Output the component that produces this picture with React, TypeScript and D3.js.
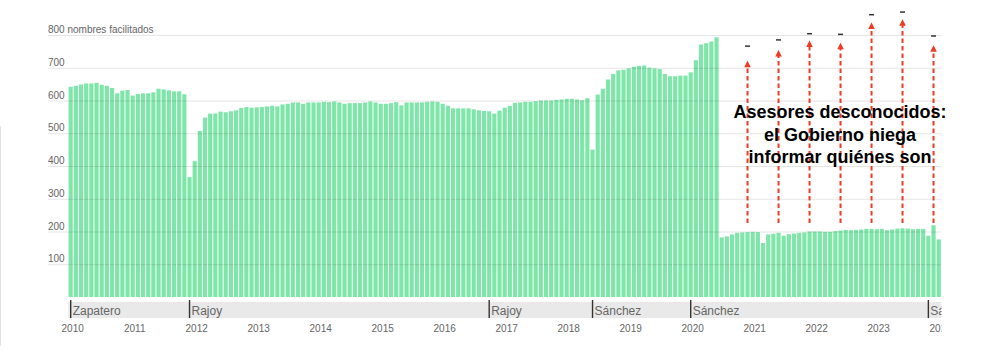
import React from 'react';
import * as d3 from 'd3';

// monthly counts of named advisers, Jan 2010 -> Jan 2024
const y2010 = [642, 645, 649, 652, 652, 654, 648, 645, 638, 622, 630, 632];
const y2011 = [615, 620, 622, 622, 625, 636, 634, 631, 628, 628, 619, 366];
const y2012 = [415, 507, 548, 560, 560, 566, 564, 567, 570, 577, 580, 578];
const y2013 = [579, 580, 582, 584, 582, 588, 590, 594, 594, 590, 594, 594];
const y2014 = [594, 596, 595, 597, 594, 590, 592, 592, 592, 594, 597, 594];
const y2015 = [590, 590, 592, 595, 585, 594, 594, 594, 594, 596, 597, 596];
const y2016 = [590, 584, 576, 576, 576, 576, 573, 570, 568, 567, 560, 569];
const y2017 = [578, 583, 593, 594, 596, 596, 598, 600, 600, 600, 602, 603];
const y2018 = [605, 605, 603, 601, 607, 450, 618, 636, 664, 681, 692, 694];
const y2019 = [698, 703, 706, 707, 700, 698, 696, 681, 674, 674, 676, 676];
const y2020 = [686, 723, 771, 775, 780, 793, 182, 185, 191, 196, 197, 198];
const y2021 = [199, 198, 165, 191, 193, 196, 187, 192, 194, 196, 197, 200];
const y2022 = [200, 200, 199, 199, 201, 203, 205, 204, 205, 206, 208, 208];
const y2023 = [207, 208, 204, 206, 209, 210, 209, 207, 208, 208, 187, 219];
const y2024 = [176];

const values = [
  ...y2010, ...y2011, ...y2012, ...y2013, ...y2014, ...y2015, ...y2016,
  ...y2017, ...y2018, ...y2019, ...y2020, ...y2021, ...y2022, ...y2023, ...y2024,
];

const years = d3.range(2010, 2025);
const yTicks = [100, 200, 300, 400, 500, 600, 700, 800];

// government terms: label + month index (0 = Jan 2010)
const termNames = ['Zapatero', 'Rajoy', 'Rajoy', 'Sánchez', 'Sánchez', 'Sánchez'];
const termStarts = [0, 23, 81, 101, 120, 166];

// "unknown advisers" arrows every six months
const arrowMonths = [131, 137, 143, 149, 155, 161, 167];
const arrowTips = [721, 754, 783, 776, 838, 848, 769];
const arrowMarks = [766, 785, 804, 802, 862, 870, 797];

const noteLines = ['Asesores desconocidos:', 'el Gobierno niega', 'informar quiénes son'];

const W = 1000;
const H = 361;
const FONT = '"Liberation Sans", Arial, Helvetica, sans-serif';

export default function App() {
  const x = d3.scaleLinear().domain([0, 168]).range([70.7, 938.7]);
  const y = d3.scaleLinear().domain([0, 800]).range([297, 35]);
  const step = x(1) - x(0);
  const barW = step - 1;
  const right = 941.5;

  return (
    <div style={{ position: 'absolute', left: 0, top: 0 }}>
      <svg width={W} height={H} style={{ display: 'block', fontFamily: FONT }}>
        <defs>
          <clipPath id="clip">
            <rect x={0} y={0} width={right} height={H} />
          </clipPath>
        </defs>
        <rect width={W} height={H} fill="#fff" />
        <line x1={0.5} x2={0.5} y1={126} y2={346} stroke="#e2e2e2" />

        <g>
          {values.map((v, i) => (
            <rect
              key={i}
              x={x(i) - barW / 2}
              y={y(v)}
              width={barW}
              height={y(0) - y(v)}
              fill="#7ee6a9"
            />
          ))}
        </g>

        <g>
          {yTicks.map((t) => (
            <g key={t}>
              <line x1={48} x2={right} y1={y(t) + 0.5} y2={y(t) + 0.5} stroke="rgba(0,0,0,0.1)" />
              <text x={48} y={y(t) - 2} fontSize={10} fill="#666">
                {t === 800 ? '800 nombres facilitados' : t}
              </text>
            </g>
          ))}
        </g>

        <g clipPath="url(#clip)">
          <rect x={x(0) - 2.5} y={302} width={right - x(0) + 2.5} height={16} fill="#e9e9e9" />
          {termStarts.map((m, i) => (
            <g key={i}>
              <line x1={x(m)} x2={x(m)} y1={300} y2={318} stroke="#333" strokeWidth={1.4} />
              <text x={x(m) + 2} y={315} fontSize={12} fill="#666">
                {termNames[i]}
              </text>
            </g>
          ))}
          {years.map((yr) => (
            <text key={yr} x={x((yr - 2010) * 12) + 2} y={331.5} fontSize={10} fill="#666" textAnchor="middle">
              {yr}
            </text>
          ))}
        </g>

        <g>
          {arrowMonths.map((m, i) => {
            const v = values[m];
            const cx = x(m);
            const tip = y(arrowTips[i]);
            return (
              <g key={m}>
                <line
                  x1={cx}
                  x2={cx}
                  y1={Math.min(y(v) - 2, 223)}
                  y2={tip + 5}
                  stroke="#ee3b24"
                  strokeWidth={2}
                  strokeDasharray="4.5 3"
                />
                <path d={`M${cx},${tip}L${cx - 3.3},${tip + 6.5}L${cx + 3.3},${tip + 6.5}Z`} fill="#ee3b24" />
                <line
                  x1={cx - 2.5}
                  x2={cx + 2.5}
                  y1={y(arrowMarks[i])}
                  y2={y(arrowMarks[i])}
                  stroke="#333"
                  strokeWidth={1.5}
                />
              </g>
            );
          })}
        </g>

        <g>
          {noteLines.map((t, i) => (
            <text
              key={i}
              x={840}
              y={118 + i * 22.5}
              fontSize={18}
              fontWeight="bold"
              fill="#000"
              textAnchor="middle"
            >
              {t}
            </text>
          ))}
        </g>
      </svg>
    </div>
  );
}
